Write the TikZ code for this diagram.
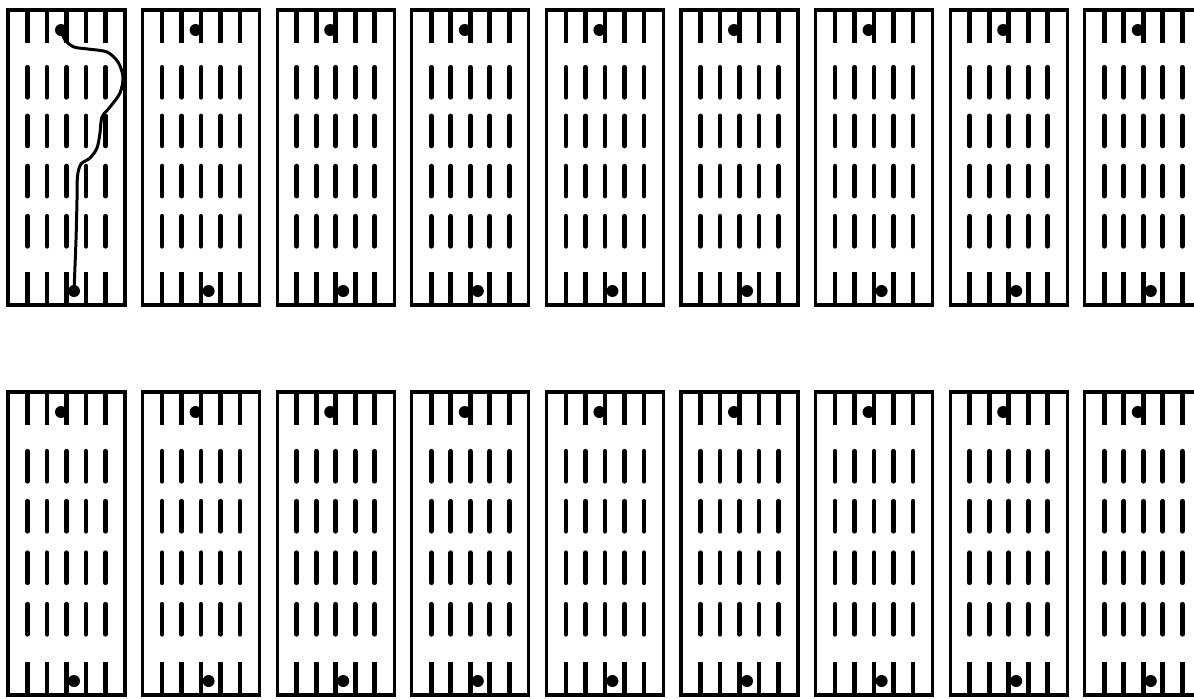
\documentclass[tikz,border=0pt]{standalone}
\usepackage{tikz}
\usetikzlibrary{arrows.meta}

\begin{document}
\begin{tikzpicture}[x=0.02cm,y=-0.02cm,
  card/.style={line width=1.8pt},
  bar/.style={line width=2.7pt},
  pin/.style={circle,fill,inner sep=0pt,minimum size=2.4mm},
  wire/.style={line width=1.7pt,line cap=round}]
\useasboundingbox (0,0) rectangle (1194,698);
\clip (0,0) rectangle (1194,698);
% two rows of nine cards, five columns of slots each
\foreach \row/\top/\bot in {0/10/305, 1/392/695} {
  \foreach \i in {1,...,9} {
    \pgfmathsetmacro\lx{8+134.6*(\i-1)}
    \draw[card] (\lx,\top) rectangle ++(117,\bot-\top);
    \foreach \c in {1,...,5} {
      \pgfmathsetmacro\cx{\lx+19.5*\c}
      \draw[bar] (\cx,\top) -- ++(0,33);
      \draw[bar] (\cx,\bot) -- ++(0,-33);
      \foreach \f in {0.245,0.41,0.58,0.75} {
        \pgfmathsetmacro\cy{\top+\f*(\bot-\top)}
        \draw[bar,line cap=round] (\cx,\cy-15) -- (\cx,\cy+15);
      }
    }
    \node[pin] (p\row\i t) at (\lx+53,\top+20) {};
    \node[pin] (p\row\i b) at (\lx+66,\bot-14) {};
  }
}
% the wire through the first card
\draw[wire] plot[smooth] coordinates {(p01t) (65,40) (74,47) (88,49) (107,52)
  (118,62) (123,77) (120,93) (110,107) (102,117) (100,133) (97,148) (90,158)
  (81,164) (77.5,176) (77,200) (76,240) (p01b)};
\end{tikzpicture}
\end{document}
